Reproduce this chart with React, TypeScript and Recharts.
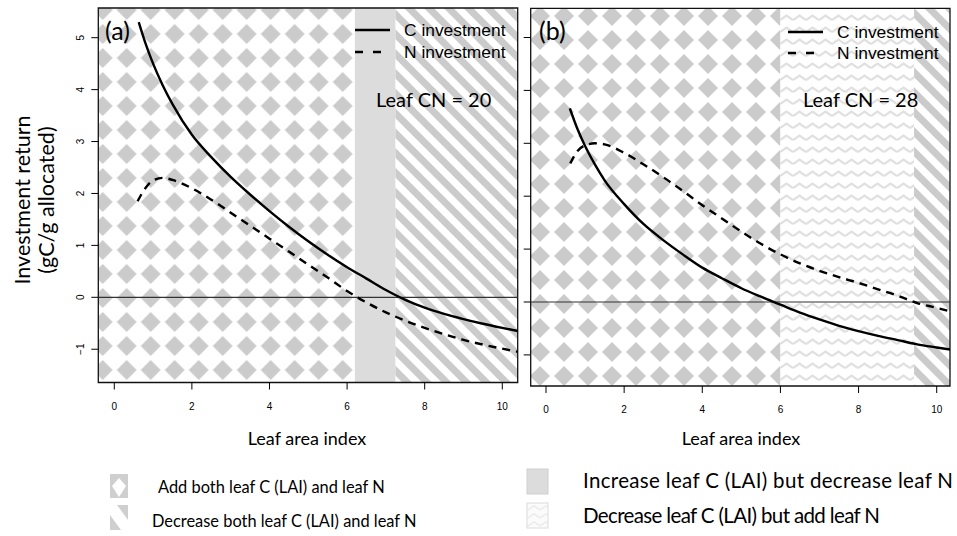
import React from "react";
import { LineChart, Line, XAxis, YAxis, ReferenceArea, ReferenceLine } from "recharts";

// panel (a), leaf CN = 20
const laiA = [0.63, 0.8, 1, 1.25, 1.5, 2, 2.5, 3, 3.5, 4, 4.5, 5, 5.5, 6, 6.5, 7, 7.5, 8, 8.5, 9, 9.5, 10, 10.4];
const cInvA = [5.3, 4.9, 4.5, 4.08, 3.72, 3.13, 2.7, 2.32, 1.98, 1.66, 1.36, 1.08, 0.82, 0.58, 0.36, 0.14, -0.05, -0.2, -0.32, -0.42, -0.51, -0.59, -0.65];
const laiNA = [0.6, 0.8, 1, 1.25, 1.5, 2, 2.5, 3, 3.5, 4, 4.5, 5, 5.5, 6, 6.5, 7, 7.5, 8, 8.5, 9, 9.5, 10, 10.4];
const nInvA = [1.85, 2.1, 2.25, 2.3, 2.26, 2.1, 1.88, 1.63, 1.38, 1.13, 0.88, 0.63, 0.38, 0.12, -0.1, -0.29, -0.45, -0.59, -0.71, -0.82, -0.91, -0.99, -1.05];
const boundsA = [6.2, 7.25];

// panel (b), leaf CN = 28
const laiB = [0.61, 0.8, 1, 1.25, 1.5, 2, 2.5, 3, 3.5, 4, 4.5, 5, 5.5, 6, 6.5, 7, 7.5, 8, 8.5, 9, 9.5, 10, 10.35];
const cInvB = [3.66, 3.28, 2.95, 2.6, 2.3, 1.85, 1.47, 1.17, 0.9, 0.65, 0.45, 0.26, 0.1, -0.05, -0.2, -0.33, -0.45, -0.55, -0.64, -0.72, -0.8, -0.86, -0.9];
const laiNB = [0.62, 0.8, 1, 1.25, 1.5, 2, 2.5, 3, 3.5, 4, 4.5, 5, 5.5, 6, 6.5, 7, 7.5, 8, 8.5, 9, 9.5, 10, 10.35];
const nInvB = [2.62, 2.85, 2.96, 3.0, 2.98, 2.82, 2.6, 2.36, 2.1, 1.83, 1.58, 1.33, 1.1, 0.9, 0.73, 0.59, 0.47, 0.36, 0.24, 0.12, -0.02, -0.11, -0.18];
const boundsB = [6.0, 9.42];

const xTicks = [0, 2, 4, 6, 8, 10];
const yTicks = [-1, 0, 1, 2, 3, 4, 5];

const zip = (xs: number[], ys: number[]) => xs.map((x, i) => ({ lai: x, v: ys[i] }));

const calibri = "Lato, 'Open Sans', sans-serif";
const arial = "'Liberation Sans', Arial, sans-serif";

const fmt = (v: number) => (v < 0 ? "\u2212" + Math.abs(v) : String(v));

function XTick(props: any) {
  const { x, y, payload } = props;
  return (
    <text x={x} y={y + 18} textAnchor="middle" fontSize={10} fontFamily={arial} fill="#000">
      {payload.value}
    </text>
  );
}

function makeYTick(show: boolean) {
  return (props: any) => {
    const { x, y, payload } = props;
    if (!show) return <g />;
    const bx = x - 5;
    return (
      <text
        x={bx}
        y={y}
        transform={`rotate(-90 ${bx} ${y})`}
        textAnchor="middle"
        fontSize={10}
        fontFamily={arial}
        fill="#000"
      >
        {fmt(payload.value)}
      </text>
    );
  };
}

interface PanelProps {
  left: number;
  width: number;
  margin: { top: number; right: number; bottom: number; left: number };
  yAxisWidth: number;
  xDomain: [number, number];
  yDomain: [number, number];
  bounds: number[];
  midFill: string;
  diamond: string;
  cData: { lai: number; v: number }[];
  nData: { lai: number; v: number }[];
  showYLabels: boolean;
}

function Panel(p: PanelProps) {
  return (
    <div style={{ position: "absolute", left: p.left, top: 0 }}>
      <LineChart width={p.width} height={420} margin={p.margin}>
        <XAxis
          type="number"
          dataKey="lai"
          domain={p.xDomain}
          ticks={xTicks}
          allowDataOverflow
          axisLine={false}
          tickSize={7}
          tickMargin={2}
          stroke="#000"
          height={30}
          tick={<XTick />}
        />
        <YAxis
          type="number"
          domain={p.yDomain}
          ticks={yTicks}
          allowDataOverflow
          axisLine={false}
          tickSize={7}
          tickMargin={2}
          stroke="#000"
          width={p.yAxisWidth}
          tick={makeYTick(p.showYLabels)}
        />
        <ReferenceArea x1={p.xDomain[0]} x2={p.bounds[0]} y1={p.yDomain[0]} y2={p.yDomain[1]} fill={`url(#${p.diamond})`} fillOpacity={1} stroke="none" />
        <ReferenceArea x1={p.bounds[0]} x2={p.bounds[1]} y1={p.yDomain[0]} y2={p.yDomain[1]} fill={p.midFill} fillOpacity={1} stroke="none" />
        <ReferenceArea x1={p.bounds[1]} x2={p.xDomain[1]} y1={p.yDomain[0]} y2={p.yDomain[1]} fill="url(#stripes)" fillOpacity={1} stroke="none" />
        <ReferenceLine y={0} stroke="#333" strokeWidth={1.2} />
        <Line data={p.cData} dataKey="v" type="monotone" stroke="#000" strokeWidth={2.4} dot={false} isAnimationActive={false} />
        <Line data={p.nData} dataKey="v" type="monotone" stroke="#000" strokeWidth={2.4} strokeDasharray="8 6" dot={false} isAnimationActive={false} />
        <ReferenceArea x1={p.xDomain[0]} x2={p.xDomain[1]} y1={p.yDomain[0]} y2={p.yDomain[1]} fill="none" stroke="#111" strokeWidth={1.3} />
      </LineChart>
    </div>
  );
}

function Patterns() {
  return (
    <svg width={0} height={0} style={{ position: "absolute" }}>
      <defs>
        <pattern id="diamA" patternUnits="userSpaceOnUse" x={18.7} y={22} width={24} height={24}>
          <rect width={24} height={24} fill="#fff" />
          <polygon points="12,2 22,12 12,22 2,12" fill="#cbcbcb" />
        </pattern>
        <pattern id="diamB" patternUnits="userSpaceOnUse" x={8} y={4} width={24} height={24}>
          <rect width={24} height={24} fill="#fff" />
          <polygon points="12,2 22,12 12,22 2,12" fill="#cbcbcb" />
        </pattern>
        <pattern id="stripes" patternUnits="userSpaceOnUse" width={14} height={14} patternTransform="rotate(-45)">
          <rect width={14} height={14} fill="#fff" />
          <rect width={7} height={14} fill="#cbcbcb" />
        </pattern>
        <pattern id="zig" patternUnits="userSpaceOnUse" width={13} height={12}>
          <rect width={13} height={12} fill="#fff" />
          <polyline points="0,8 6.5,3.5 13,8" fill="none" stroke="#e0e0e0" strokeWidth={2.2} />
        </pattern>
        <pattern id="zigLight" patternUnits="userSpaceOnUse" width={12} height={8}>
          <rect width={12} height={8} fill="#fbfbfb" />
          <polyline points="0,6 6,2 12,6" fill="none" stroke="#ececec" strokeWidth={1.5} />
        </pattern>
      </defs>
    </svg>
  );
}

function Overlay() {
  return (
    <svg width={957} height={536} style={{ position: "absolute", left: 0, top: 0, pointerEvents: "none" }}>
      {/* panel labels */}
      <text x={105} y={40} fontFamily={calibri} fontSize={25}>(a)</text>
      <text x={539} y={40} fontFamily={calibri} fontSize={25}>(b)</text>
      {/* in-plot legends */}
      <line x1={355} x2={390} y1={30} y2={30} stroke="#000" strokeWidth={2.4} />
      <line x1={355} x2={390} y1={52} y2={52} stroke="#000" strokeWidth={2.4} strokeDasharray="8 10" />
      <text x={404} y={36} fontFamily={arial} fontSize={17.4}>C investment</text>
      <text x={404} y={58} fontFamily={arial} fontSize={17.4}>N investment</text>
      <line x1={788} x2={823} y1={32} y2={32} stroke="#000" strokeWidth={2.4} />
      <line x1={788} x2={823} y1={53} y2={53} stroke="#000" strokeWidth={2.4} strokeDasharray="8 10" />
      <text x={837} y={38} fontFamily={arial} fontSize={17.4}>C investment</text>
      <text x={837} y={59} fontFamily={arial} fontSize={17.4}>N investment</text>
      <text x={376} y={107} fontFamily={calibri} fontSize={20}>Leaf CN = 20</text>
      <text x={803} y={107} fontFamily={calibri} fontSize={20}>Leaf CN = 28</text>
      {/* axis titles */}
      <text x={307} y={445} textAnchor="middle" fontFamily={calibri} fontSize={18}>Leaf area index</text>
      <text x={741} y={445} textAnchor="middle" fontFamily={calibri} fontSize={18}>Leaf area index</text>
      <text transform="rotate(-90)" x={-200} y={30} textAnchor="middle" fontFamily={calibri} fontSize={21.5}>Investment return</text>
      <text transform="rotate(-90)" x={-200} y={54} textAnchor="middle" fontFamily={calibri} fontSize={21.5}>(gC/g allocated)</text>
      {/* bottom legend */}
      <rect x={110} y={474} width={18} height={24} fill="#cfcfcf" />
      <polygon points="119,478 126,486 119,497 112,486" fill="#fff" />
      <rect x={110} y={505} width={18} height={25} fill="#cfcfcf" />
      <polygon points="110,505 117,505 128,520 128,530 121,530 110,515" fill="#fff" />
      <rect x={527} y={469} width={21} height={25} fill="#dcdcdc" stroke="#cfcfcf" />
      <rect x={527} y={503} width={21} height={25} fill="url(#zigLight)" stroke="#dcdcdc" />
      <text x={158} y={493} fontFamily={calibri} fontSize={16.4}>Add both leaf C (LAI) and leaf N</text>
      <text x={152} y={527} fontFamily={calibri} fontSize={16.4}>Decrease both leaf C (LAI) and leaf N</text>
      <text x={583} y={488} fontFamily={calibri} fontSize={20.5} textLength={370} lengthAdjust="spacing">Increase leaf C (LAI) but decrease leaf N</text>
      <text x={583} y={523} fontFamily={calibri} fontSize={20.5} textLength={297} lengthAdjust="spacing">Decrease leaf C (LAI) but add leaf N</text>
    </svg>
  );
}

export default function App() {
  return (
    <div style={{ position: "absolute", left: 0, top: 0, width: 957, height: 536, background: "#fff" }}>
      <Patterns />
      <Panel
        left={0}
        width={525}
        margin={{ top: 8, right: 7.3, bottom: 7.5, left: 68.3 }}
        yAxisWidth={30}
        xDomain={[-0.412, 10.397]}
        yDomain={[-1.641, 5.572]}
        bounds={boundsA}
        midFill="#dcdcdc"
        diamond="diamA"
        cData={zip(laiA, cInvA)}
        nData={zip(laiNA, nInvA)}
        showYLabels
      />
      <Panel
        left={520}
        width={437}
        margin={{ top: 8.3, right: 7, bottom: 4, left: 0 }}
        yAxisWidth={10.7}
        xDomain={[-0.392, 10.34]}
        yDomain={[-1.588, 5.552]}
        bounds={boundsB}
        midFill="url(#zig)"
        diamond="diamB"
        cData={zip(laiB, cInvB)}
        nData={zip(laiNB, nInvB)}
        showYLabels={false}
      />
      <Overlay />
    </div>
  );
}
